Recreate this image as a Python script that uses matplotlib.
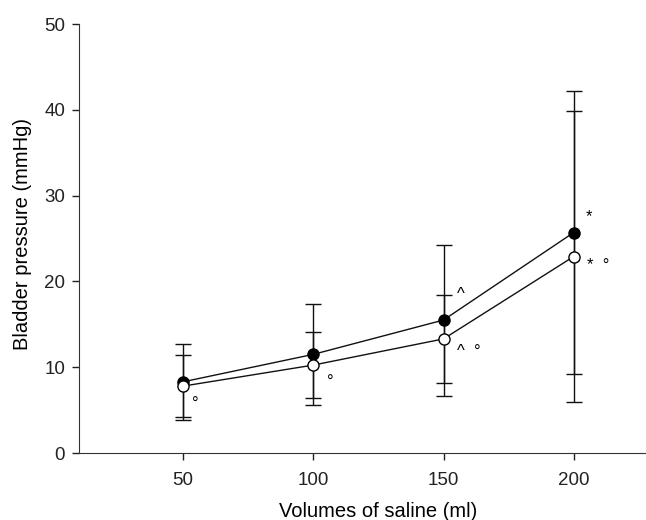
import numpy as np
import matplotlib.pyplot as plt

plt.rcParams["font.family"] = ["Liberation Sans", "DejaVu Sans"]

# saline volume (ml)
volumes = np.array([50, 100, 150, 200])

# filled circles: mean and SD
filled_mean = np.array([8.3, 11.5, 15.5, 25.7])
filled_sd = np.array([4.4, 5.9, 8.8, 16.5])
filled_marks = ["", "", "^", "*"]

# open circles: mean and SD
open_mean = np.array([7.8, 10.25, 13.3, 22.9])
open_sd = np.array([3.6, 3.8, 5.1, 17.0])
open_marks = ["°", "°", "^  °", "*  °"]

fig = plt.figure(figsize=(6.46, 5.2), dpi=100)
# the x axis runs on past the right edge of the picture, as in the original
ax = fig.add_axes([0.1223, 0.1288, 0.927, 0.825])

ax.errorbar(volumes, filled_mean, yerr=filled_sd, color="#111111", lw=1.0,
            marker="o", ms=8, mfc="black", mec="black", capsize=6,
            elinewidth=1.0, capthick=1.0, zorder=3)
ax.errorbar(volumes, open_mean, yerr=open_sd, color="#111111", lw=1.0,
            marker="o", ms=8, mfc="white", mec="black", capsize=6,
            elinewidth=1.0, capthick=1.0, zorder=3)

# significance marks next to the points (offsets in pixels)
filled_off = [(0, 0), (0, 0), (13, 26), (12, 16)]
open_off = [(9, -18), (14, -17), (13, -13), (13, -9)]
for x, y, s, off in zip(volumes, filled_mean, filled_marks, filled_off):
    if s:
        ax.annotate(s, (x, y), xytext=off, textcoords="offset pixels",
                    ha="left", va="center", fontsize=12)
for x, y, s, off in zip(volumes, open_mean, open_marks, open_off):
    ax.annotate(s, (x, y), xytext=off, textcoords="offset pixels",
                ha="left", va="center", fontsize=12)

ax.set_xlim(10, 240)
ax.set_ylim(0, 50)
ax.set_xticks(volumes)
ax.set_yticks(np.arange(0, 51, 10))
ax.spines["top"].set_visible(False)
ax.spines["right"].set_visible(False)
ax.spines["left"].set_color("#333333")
ax.spines["bottom"].set_color("#333333")
ax.tick_params(direction="out", length=5, width=1, labelsize=13.5,
               colors="#222222", pad=5)
ax.tick_params(axis="x", pad=9)

ax.set_xlabel("Volumes of saline (ml)", fontsize=14.5, labelpad=9)
ax.set_ylabel("Bladder pressure (mmHg)", fontsize=14.5)
ax.yaxis.set_label_coords(-0.078, 0.51)

fig.savefig("out.png", dpi=100)
